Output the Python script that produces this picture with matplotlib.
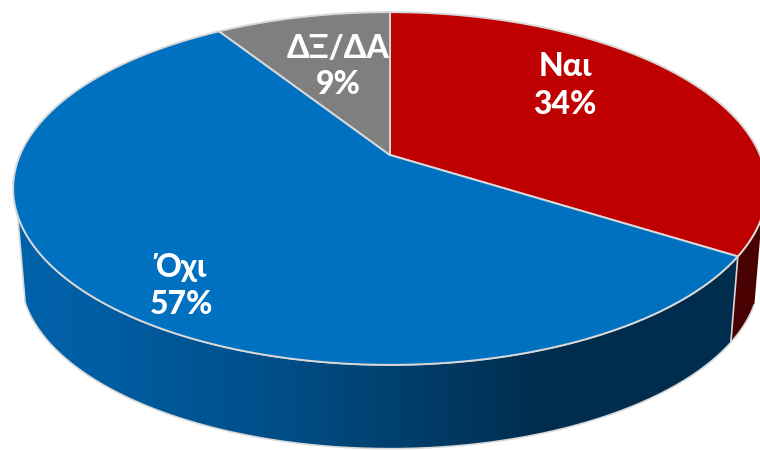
import numpy as np
import matplotlib
matplotlib.use("Agg")
import matplotlib.pyplot as plt
from matplotlib.path import Path
from matplotlib.patches import PathPatch
from matplotlib.transforms import Transform
from matplotlib.colors import LinearSegmentedColormap

labels = ["Ναι", "Όχι", "ΔΞ/ΔΑ"]
values = [34, 57, 9]
percents = ["34%", "57%", "9%"]
colors = ["#bf0000", "#0070c0", "#7f7f7f"]

CX, CY, A, B, K = 390, 155, 370, 170, 0.19
EDGE = "#d8d8d8"


class Tilt(Transform):
    """Perspective view of the unit-circle pie, in pixel coordinates."""
    input_dims = output_dims = 2
    has_inverse = False

    def __init__(self, scale=1.0, dx=0.0, dy=0.0):
        super().__init__()
        self.s, self.dx, self.dy = scale, dx, dy

    def transform_non_affine(self, xy):
        xy = np.asarray(xy, float)
        w = 1 + K * xy[:, 1]
        X = CX + self.dx + self.s * A * xy[:, 0] / w
        Y = CY + self.dy - self.s * B * xy[:, 1] / w
        return np.column_stack([X, Y])

    def transform_path_non_affine(self, path):
        pts = []
        for curve, code in path.iter_bezier():
            if code == Path.MOVETO:
                pts.append(curve.control_points)
            else:
                pts.append(curve(np.linspace(0, 1, 24))[1:])
        return Path(self.transform_non_affine(np.vstack(pts)))


fig = plt.figure(figsize=(7.6, 4.5), dpi=100)
ax = fig.add_axes([0, 0, 1, 1])
wedges, _ = ax.pie(values, colors=colors, startangle=90, counterclock=False,
                   wedgeprops=dict(edgecolor=EDGE, linewidth=1.4))
top = Tilt()
for w in wedges:
    w.set_transform(top + ax.transData)
    w.set_zorder(3)
    w.set_clip_on(False)
ax.set_aspect("auto")

# side wall
bottom = Tilt(scale=0.98, dx=0, dy=88)
cum = np.cumsum([0] + values) / sum(values) * 2 * np.pi


def wall(t0, t1):
    t = np.linspace(t0, t1, 300)
    pts = np.column_stack([np.sin(t), np.cos(t)])
    return np.vstack([top.transform_non_affine(pts),
                      bottom.transform_non_affine(pts)[::-1]])


blue_cmap = LinearSegmentedColormap.from_list(
    "wall", [(0, "#0064ae"), (0.15, "#005ca0"), (0.35, "#004f8a"),
             (0.55, "#003d69"), (0.72, "#002c4e"), (1, "#002c4e")])
grad = np.linspace(0, 1, 760)[None, :]

blue_poly = wall(cum[1], cum[1] + np.radians(128))
patch = PathPatch(Path(blue_poly), facecolor="none", edgecolor=EDGE, linewidth=1.2, zorder=2)
ax.add_patch(patch)
im = ax.imshow(grad, cmap=blue_cmap, extent=(0, 760, 450, 0), aspect="auto", zorder=1)
im.set_clip_path(PathPatch(Path(blue_poly), transform=ax.transData))

red_poly = wall(np.radians(110), cum[1])
ax.add_patch(PathPatch(Path(red_poly), facecolor="#480000", edgecolor=EDGE, linewidth=1.2, zorder=2))

ax.set_xlim(0, 760)
ax.set_ylim(450, 0)
ax.axis("off")

font = ["Lato", "Noto Sans", "DejaVu Sans"]
for lab, pct, (x, y0, y1) in zip(labels, percents,
                                 [(565, 67, 104), (181, 267, 304), (338, 48, 85)]):
    ax.text(x, y0, lab, color="white", fontsize=23, fontweight="black",
            family=font, ha="center", va="center", zorder=5)
    ax.text(x, y1, pct, color="white", fontsize=23, fontweight="black",
            family=font, ha="center", va="center", zorder=5)

fig.savefig("out.png", dpi=100)
